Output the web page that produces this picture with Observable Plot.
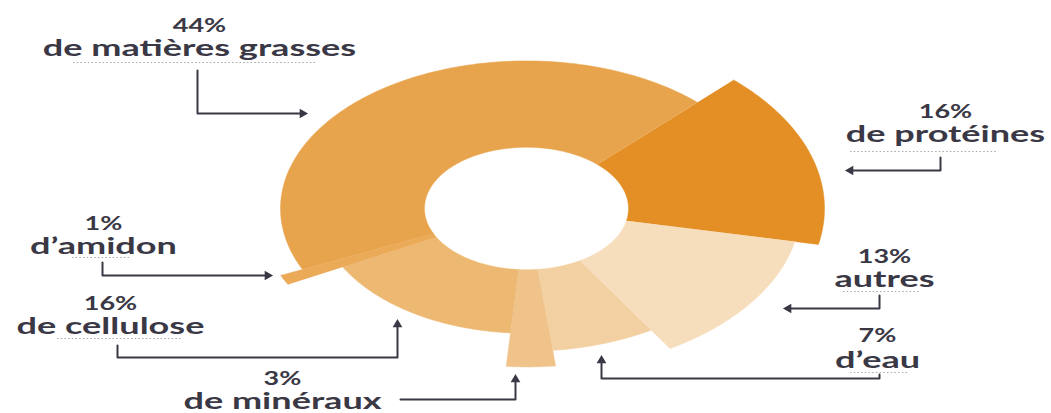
<!DOCTYPE html>
<html><head><meta charset="utf-8">
<script src="https://cdn.jsdelivr.net/npm/d3@7"></script>
<script src="https://cdn.jsdelivr.net/npm/@observablehq/plot@0.6"></script>
<style>
html,body{margin:0;padding:0;background:#fff;}
#chart{width:1051px;height:413px;overflow:hidden;}
</style></head>
<body><div id="chart"></div>
<script>
// ---- data ----
const names    = ["de protéines","autres","d’eau","de minéraux","de cellulose","d’amidon","de matières grasses"];
const percents = [16, 13, 7, 3, 16, 1, 44];
const pctLabels = ["16%","13%","7%","3%","16%","1%","44%"];
// outer radius of each slice (relative units, inner hole = 102)
const outerRadius = [298, 274, 238, 264, 208, 270, 246];
const colors = ["#E38F25","#F6DDBC","#F3D0A2","#EFC38A","#EDB872","#EBAA58","#E8A44C"];

// ---- layout ----
const W = 1051, H = 413, cx = 526, cy = 208, ky = 0.6;
const innerRadius = 102, startAngle = 44;
const labelPos = [ // pixel layout for annotations (same order as names)
  {x: 945, pctY: 117, nameY: 141, dots: [850, 997, 151], arrow: [[940,157],[940,170],[847,170]]},
  {x: 884, pctY: 262, nameY: 286, dots: [843, 920, 291], arrow: [[879,295],[879,308],[785,308]]},
  {x: 877, pctY: 341, nameY: 367, dots: [850, 908, 372], arrow: [[879,374],[879,378],[601,378],[601,357]]},
  {x: 282, pctY: 384, nameY: 408, dots: null,            arrow: [[400,399],[515,399],[515,376]]},
  {x: 110, pctY: 309, nameY: 333, dots: [57, 182, 338],  arrow: [[117,345],[117,357],[397,357],[397,321]]},
  {x: 103, pctY: 229, nameY: 253, dots: [72, 130, 257],  arrow: [[102,262],[102,275],[270,275]]},
  {x: 199, pctY: 31,  nameY: 55,  dots: [73, 315, 62],   arrow: [[197,70],[197,113],[305,113]]}
];

const px = v => v - cx;              // pixel -> data x
const py = v => (cy - v) / ky;        // pixel -> data y

// ---- wedges from the data ----
const total = d3.sum(percents);
const wedges = [];
let a = startAngle;
percents.forEach((p, i) => {
  const a0 = a, a1 = a + p / total * 360; a = a1;
  const n = Math.max(4, Math.ceil((a1 - a0) / 0.5));
  const pts = [];
  for (let k = 0; k <= n; k++) { const t = (a0 + (a1 - a0) * k / n) * Math.PI / 180; pts.push([innerRadius * Math.sin(t), innerRadius * Math.cos(t)]); }
  for (let k = n; k >= 0; k--) { const t = (a0 + (a1 - a0) * k / n) * Math.PI / 180; pts.push([outerRadius[i] * Math.sin(t), outerRadius[i] * Math.cos(t)]); }
  pts.forEach(([x, y]) => wedges.push({name: names[i], x, y, color: colors[i]}));
});

// ---- annotations ----
const pctTexts = [], nameTexts = [], dotted = [], arrowPts = [], heads = [];
labelPos.forEach((l, i) => {
  pctTexts.push({x: px(l.x), y: py(l.pctY), t: pctLabels[i]});
  nameTexts.push({x: px(l.x), y: py(l.nameY), t: names[i]});
  if (l.dots) dotted.push({x1: px(l.dots[0]), x2: px(l.dots[1]), y: py(l.dots[2])});
  const pts = l.arrow;
  const [xa, ya] = pts[pts.length - 2], [xb, yb] = pts[pts.length - 1];
  const dx = Math.sign(xb - xa), dy = Math.sign(yb - ya);
  pts.forEach(([x, y], k) => arrowPts.push({id: i, x: px(k === pts.length - 1 ? x - dx * 3 : x), y: py(k === pts.length - 1 ? y - dy * 3 : y)}));
  const rot = dx > 0 ? 90 : dx < 0 ? -90 : dy < 0 ? 0 : 180;
  heads.push({x: px(xb - dx * 3), y: py(yb - dy * 3), rot});
});

const ink = "#3a3845";
const font = "Lato, 'Open Sans', sans-serif";
const plot = Plot.plot({
  width: W, height: H,
  marginTop: 0, marginRight: 0, marginBottom: 0, marginLeft: 0,
  x: {domain: [-cx, W - cx], range: [0, W], axis: null},
  y: {domain: [-(H - cy) / ky, cy / ky], range: [H, 0], axis: null},
  style: {background: "#fff"},
  marks: [
    Plot.line(wedges, {x: "x", y: "y", z: "name", fill: "color", stroke: "color", strokeWidth: 0.5, curve: "linear"}),
    Plot.ruleY(dotted, {x1: "x1", x2: "x2", y: "y", stroke: "#a9a6ad", strokeWidth: 1.2, strokeDasharray: "1.5,2.2"}),
    Plot.line(arrowPts, {x: "x", y: "y", z: "id", stroke: ink, strokeWidth: 2, curve: "linear"}),
    Plot.dot(heads, {x: "x", y: "y", symbol: "triangle", r: 3.6, fill: ink, stroke: "none", rotate: "rot"}),
    Plot.text(pctTexts, {x: "x", y: "y", text: "t", fontSize: 18, textAnchor: "middle", lineAnchor: "bottom",
      fill: ink, fontFamily: font, fontWeight: 700, className: "pct"}),
    Plot.text(nameTexts, {x: "x", y: "y", text: "t", fontSize: 22, textAnchor: "middle", lineAnchor: "bottom",
      fill: ink, fontFamily: font, fontWeight: 700, className: "nm"})
  ]
});
// horizontal stretch like the reference lettering
plot.querySelectorAll('g[aria-label="text"]').forEach(g => {
  const s = (g.getAttribute("class") || "").includes("pct") ? 1.5 : 1.64;
  g.querySelectorAll("text").forEach(t => t.setAttribute("transform", (t.getAttribute("transform") || "") + ` scale(${s},1)`));
});
document.getElementById("chart").append(plot);
</script></body></html>
